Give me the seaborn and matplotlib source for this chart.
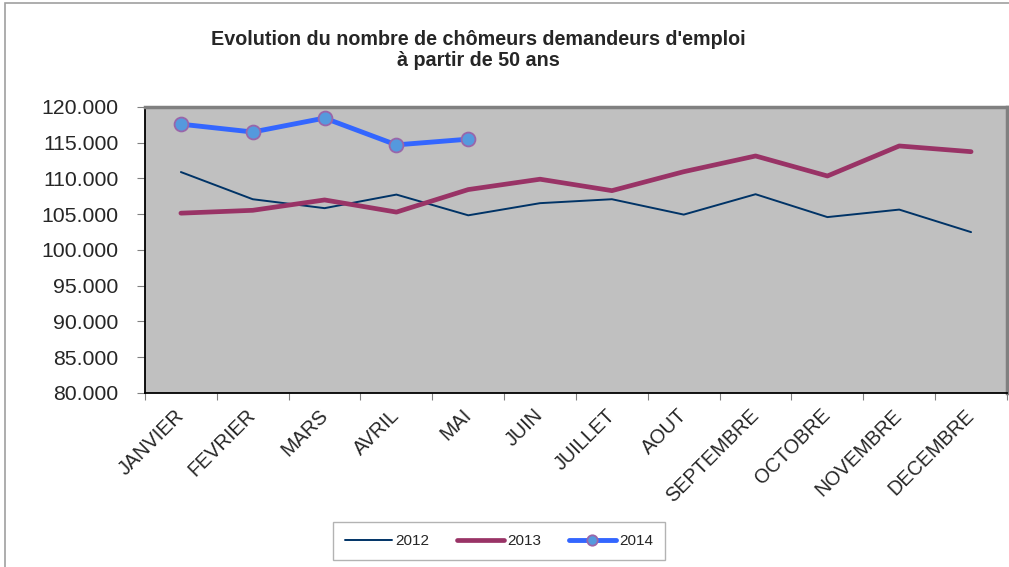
import numpy as np
import pandas as pd
import matplotlib
matplotlib.use('Agg')
import matplotlib.pyplot as plt
from matplotlib.patches import Rectangle
from matplotlib.ticker import FuncFormatter
import seaborn as sns

# Data
mois = ['JANVIER', 'FEVRIER', 'MARS', 'AVRIL', 'MAI', 'JUIN', 'JUILLET',
        'AOUT', 'SEPTEMBRE', 'OCTOBRE', 'NOVEMBRE', 'DECEMBRE']
val_2012 = [110900, 107100, 105850, 107750, 104850, 106550, 107100,
            104950, 107800, 104600, 105650, 102500]
val_2013 = [105150, 105550, 107000, 105300, 108450, 109900, 108300,
            110950, 113150, 110350, 114550, 113750]
val_2014 = [117600, 116500, 118450, 114700, 115500]

sns.set_style('white')
plt.rcParams['font.family'] = ['Liberation Sans', 'DejaVu Sans']

df12 = pd.DataFrame({'pos': np.arange(len(val_2012)), 'val': val_2012})
df13 = pd.DataFrame({'pos': np.arange(len(val_2013)), 'val': val_2013})
df14 = pd.DataFrame({'pos': np.arange(len(val_2014)), 'val': val_2014})

fig = plt.figure(figsize=(10.09, 5.67), dpi=100)
ax = fig.add_axes([0.1437, 0.3069, 0.8543, 0.5044])
ax.set_facecolor('#C0C0C0')

sns.lineplot(data=df12, x='pos', y='val', ax=ax, color='#003366', linewidth=1.4, label='2012')
sns.lineplot(data=df13, x='pos', y='val', ax=ax, color='#993366', linewidth=3.4, label='2013')
sns.lineplot(data=df14, x='pos', y='val', ax=ax, color='#3366FF', linewidth=3.5, label='2014',
             marker='o', markersize=10, markerfacecolor='#5599DD',
             markeredgecolor='#9966AA', markeredgewidth=1.3)

ax.set_xlim(-0.5, len(mois) - 0.5)
ax.set_ylim(80000, 120000)
ax.set_yticks(np.arange(80000, 120001, 5000))
ax.yaxis.set_major_formatter(FuncFormatter(lambda v, p: f'{v:,.0f}'.replace(',', '.')))
ax.tick_params(axis='y', labelsize=15.3, length=6, width=0.8, color='#808080', left=True, pad=13)

ax.set_xticks(np.arange(len(mois)))
ax.set_xticklabels(mois, rotation=45, ha='right', va='center', rotation_mode='anchor')
ax.tick_params(axis='x', which='major', length=0, labelsize=14.3, pad=14)
ax.set_xticks(np.arange(-0.5, len(mois)), minor=True)
ax.tick_params(axis='x', which='minor', length=5, width=0.8, color='#808080', bottom=True)

ax.set_xlabel('')
ax.set_ylabel('')

ax.spines['left'].set_color('black')
ax.spines['bottom'].set_color('black')
ax.spines['left'].set_linewidth(1.3)
ax.spines['bottom'].set_linewidth(1.3)
ax.spines['top'].set_color('#808080')
ax.spines['right'].set_color('#808080')
ax.spines['top'].set_linewidth(2.5)
ax.spines['right'].set_linewidth(2.5)

leg = ax.legend(loc='center', bbox_to_anchor=(499 / 1009, 1 - 541 / 567),
                bbox_transform=fig.transFigure, ncol=3, fontsize=11,
                frameon=True, fancybox=False, handlelength=3.1, columnspacing=1.8,
                handletextpad=0.2, borderpad=0.8, markerscale=0.75)
leg.get_frame().set_edgecolor('#A0A0A0')
leg.get_frame().set_linewidth(1.0)

fig.text(478 / 1009, 1 - 50 / 567,
         "Evolution du nombre de chômeurs demandeurs d'emploi\nà partir de 50 ans",
         ha='center', va='center', fontsize=14.2, fontweight='bold', linespacing=1.1)

fig.patches.append(Rectangle((5 / 1009, -0.1), 1.2, 1 - 3 / 567 + 0.1, transform=fig.transFigure,
                             fill=False, edgecolor='#A0A0A0', linewidth=1.2))

fig.savefig('out.png', dpi=100)
